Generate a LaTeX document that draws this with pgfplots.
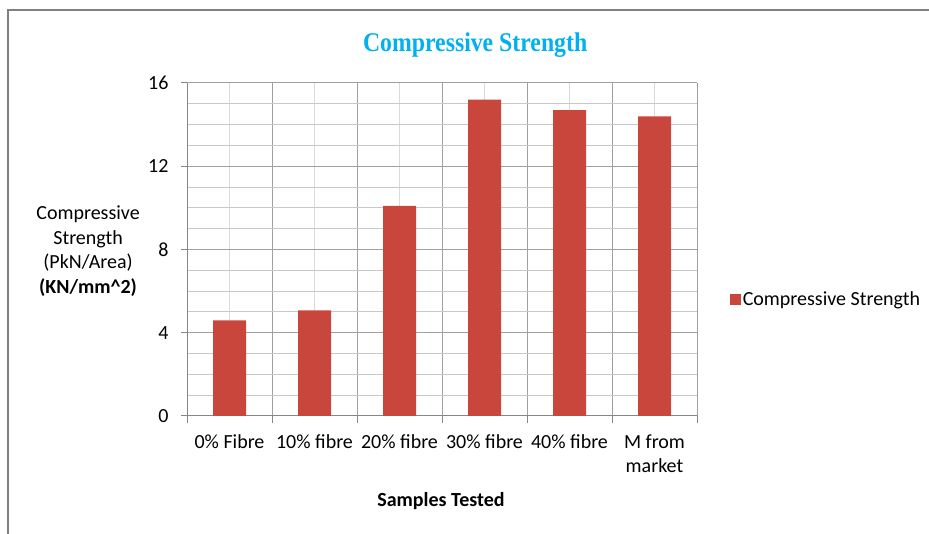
\documentclass[border=0pt]{standalone}
\usepackage{pgfplots}
\pgfplotsset{compat=1.18}
\usepackage{fontspec}
\setmainfont{Carlito}
\newfontfamily\titlefont{Liberation Serif}
\definecolor{barred}{HTML}{C9463D}
\definecolor{titleblue}{HTML}{00B0F0}
\definecolor{gridmajor}{HTML}{A0A0A0}
\definecolor{gridminor}{HTML}{C8C8C8}
\definecolor{gridlight}{HTML}{DADADA}
\definecolor{axisgray}{HTML}{868686}
\begin{document}
\begin{tikzpicture}
\path[use as bounding box] (0,0) rectangle (929pt,534pt);
% outer frame (top and left only)
\draw[color=gray, line width=2pt] (7.5pt,0pt) -- (7.5pt,523.5pt) -- (931pt,523.5pt);
\begin{axis}[
    at={(187pt,118pt)}, anchor=south west,
    scale only axis, width=510pt, height=333pt,
    font=\fontsize{20}{24.5}\selectfont,
    /pgf/number format/assume math mode=true,
    ymin=0, ymax=16,
    ytick={0,4,...,16},
    minor ytick={1,2,3,5,6,7,9,10,11,13,14,15},
    xmin=-0.5, xmax=5.5,
    xtick={0,...,5},
    xticklabels={0\% Fibre,10\% fibre,20\% fibre,30\% fibre,40\% fibre,{M from\\market}},
    minor xtick={-0.5,0.5,...,5.5},
    xmajorgrids, xminorgrids, ymajorgrids, yminorgrids,
    major x grid style={color=gridlight, line width=1pt},
    minor x grid style={color=gridmajor, line width=1pt},
    major y grid style={color=gridmajor, line width=1pt},
    minor y grid style={color=gridminor, line width=1pt},
    axis x line*=bottom, axis y line*=left,
    axis line style={color=axisgray, line width=1pt},
    tick align=outside,
    major tick length=6pt, minor tick length=7pt,
    major x tick style={draw=none},
    minor y tick style={draw=none},
    tick style={color=axisgray, line width=1pt},
    xticklabel style={align=center, anchor=north, yshift=-9pt},
    yticklabel style={xshift=-9pt},
    ybar, bar width=33pt,
    every axis y label/.style={at={(axis description cs:-0.194,0.495)}, anchor=center, align=center},
    ylabel={Compressive\\Strength\\(PkN/Area)\\\textbf{(KN/mm\textasciicircum 2)}},
    every axis x label/.style={at={(axis description cs:0.498,-0.255)}, anchor=center},
    xlabel={\textbf{Samples Tested}},
    title style={at={(axis description cs:0.565,1.095)}, anchor=center, font=\titlefont\bfseries\fontsize{27}{30}\selectfont, color=titleblue},
    title={\scalebox{0.88}[1]{Compressive Strength}},
    legend style={at={(axis description cs:1.058,0.351)}, anchor=west, draw=none, fill=none, font=\fontsize{20}{24}\selectfont},
    legend image code/.code={\fill[barred] (0pt,-5.5pt) rectangle (11pt,5.5pt);},
]
\addplot[fill=barred, draw=none] coordinates {
    (0,4.6) (1,5.08) (2,10.1) (3,15.2) (4,14.7) (5,14.4)
};
\addlegendentry{Compressive Strength}
\end{axis}
\end{tikzpicture}
\end{document}
